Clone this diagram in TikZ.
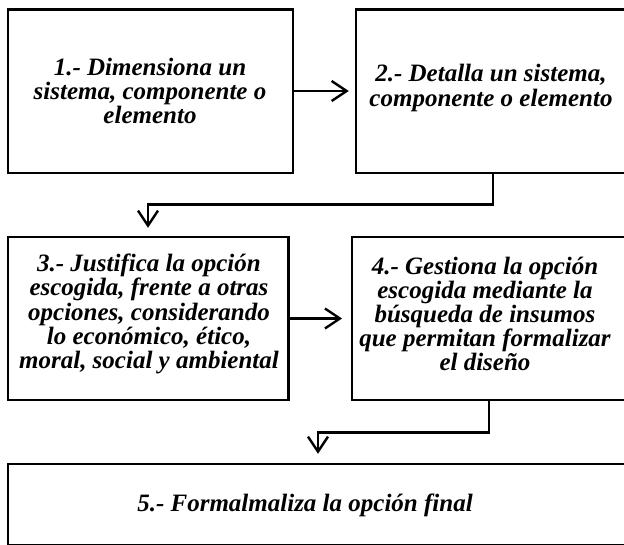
\documentclass[tikz,border=0pt]{standalone}
\usepackage{fontspec}
\setmainfont{Liberation Serif}
\usetikzlibrary{arrows.meta}
\begin{document}
\begin{tikzpicture}[x=1pt,y=-1pt,
  box/.style={draw=black,line width=2.4pt,inner sep=0pt,fill=none},
  txt/.style={align=center,inner sep=0pt,font=\bfseries\itshape\fontsize{25}{24.2}\selectfont},
  conn/.style={draw=black,line width=2.4pt,-{Straight Barb[length=15pt,width=20pt,line width=2.4pt]}}]
\useasboundingbox (0,0) rectangle (624,544);
% boxes
\node[box,minimum width=285pt,minimum height=163.4pt] (b1) at (150.2,91) {};
\node[box,minimum width=274pt,minimum height=163.4pt] (b2) at (493,91) {};
\node[box,minimum width=280.6pt,minimum height=163pt] (b3) at (148,318.5) {};
\node[box,minimum width=274.6pt,minimum height=163pt] (b4) at (489,318.5) {};
\node[box,minimum width=620.3pt,minimum height=81pt] (b5) at (317.85,504.5) {};
% texts
\node[txt] (t1) at (150,91) {1.- Dimensiona un\\sistema, componente o\\elemento};
\node[txt] (t2) at (491,88) {2.- Detalla un sistema,\\componente o elemento};
\node[txt] (t3) at (149,314) {3.- Justifica la opción\\escogida, frente a otras\\opciones, considerando\\lo económico, ético,\\moral, social y ambiental};
\node[txt] (t4) at (485,314) {4.- Gestiona la opción\\escogida mediante la\\búsqueda de insumos\\que permitan formalizar\\el diseño};
\node[txt] (t5) at (305,505) {5.- Formalmaliza la opción final};
% connectors
\coordinate (m1) at (148,204.5);
\coordinate (m2) at (318,432.3);
\draw[conn,shorten >=6pt] (b1.east) -- (b2.west);
\draw[conn,shorten >=8.4pt] (b3.east) -- (b4.west);
\draw[conn,shorten >=8pt] (b2.south) |- (m1) -- (b3.north);
\draw[conn,shorten >=9pt] (b4.south) |- (m2) -- (m2 |- b5.north);
\end{tikzpicture}
\end{document}
